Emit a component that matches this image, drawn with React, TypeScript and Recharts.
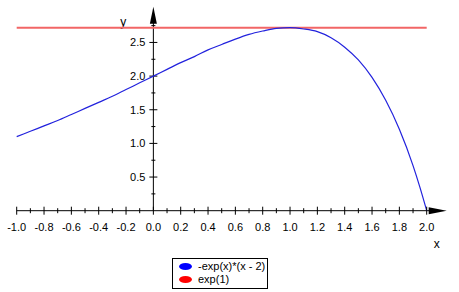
import { LineChart, Line, XAxis, YAxis, ReferenceLine } from 'recharts';

// curve values, x = -1 .. 2
const xValues = [-1, -0.9, -0.8, -0.7, -0.6, -0.5, -0.4, -0.3, -0.2, -0.1, 0, 0.1, 0.2, 0.3, 0.4, 0.5, 0.6, 0.7, 0.8, 0.9, 1, 1.1, 1.2, 1.3, 1.4, 1.5, 1.6, 1.7, 1.8, 1.9, 1.95, 2];
const curveValues = [1.10, 1.18, 1.26, 1.34, 1.43, 1.52, 1.61, 1.70, 1.80, 1.90, 2.0, 2.10, 2.20, 2.29, 2.39, 2.47, 2.55, 2.62, 2.67, 2.71, 2.72, 2.70, 2.66, 2.57, 2.43, 2.24, 1.98, 1.64, 1.21, 0.67, 0.35, 0];
const expOne = 2.718;

const xTicks = [-1, -0.9, -0.8, -0.7, -0.6, -0.5, -0.4, -0.3, -0.2, -0.1, 0, 0.1, 0.2, 0.3, 0.4, 0.5, 0.6, 0.7, 0.8, 0.9, 1, 1.1, 1.2, 1.3, 1.4, 1.5, 1.6, 1.7, 1.8, 1.9, 2];
const yTicks = [0.25, 0.5, 0.75, 1, 1.25, 1.5, 1.75, 2, 2.25, 2.5, 2.75];

const xDomain = [-1, 2];
const yDomain = [0, 3];

const data = xValues.map((x, i) => ({ x, y: curveValues[i] }));

const FONT = '"Liberation Sans", Arial, sans-serif';

const isMajor = (v: number, step: number) => Math.abs(Math.round(v / step) * step - v) < 1e-6;

const XTick = ({ x, y, payload }: any) => {
  const major = isMajor(payload.value, 0.2);
  const h = major ? 4 : 2.5;
  return (
    <g>
      <line x1={x} x2={x} y1={y - h} y2={y + h} stroke="#000" strokeWidth={1} />
      {major && (
        <text x={x} y={y + 20} textAnchor="middle" fontSize={11} fontFamily={FONT} fill="#000">
          {payload.value.toFixed(1)}
        </text>
      )}
    </g>
  );
};

// pixel x of the value 0 on a horizontal reference line
const zeroX = (p: any) => {
  const l = Math.min(p.x1, p.x2);
  const r = Math.max(p.x1, p.x2);
  return l + ((0 - xDomain[0]) / (xDomain[1] - xDomain[0])) * (r - l);
};

const YTickShape = (value: number) => (p: any) => {
  const x0 = zeroX(p);
  const major = isMajor(value, 0.5);
  const w = major ? 4 : 2;
  return (
    <g>
      <line x1={x0 - w} x2={x0 + w} y1={p.y1} y2={p.y1} stroke="#000" strokeWidth={1} />
      {major && (
        <text x={x0 - 8} y={p.y1 + 4} textAnchor="end" fontSize={11} fontFamily={FONT} fill="#000">
          {value.toFixed(1)}
        </text>
      )}
    </g>
  );
};

const YAxisShape = (p: any) => {
  const top = Math.min(p.y1, p.y2);
  const bottom = Math.max(p.y1, p.y2);
  const x = p.x1;
  return (
    <g>
      <line x1={x} x2={x} y1={top + 8} y2={bottom} stroke="#000" strokeWidth={1} />
      <polygon points={`${x},${top - 2} ${x - 3.5},${top + 15} ${x + 3.5},${top + 15}`} fill="#000" />
      <text x={x - 30} y={top + 17} textAnchor="middle" fontSize={12} fontFamily={FONT} fill="#000">y</text>
    </g>
  );
};

const XAxisShape = (p: any) => {
  const left = Math.min(p.x1, p.x2);
  const right = Math.max(p.x1, p.x2);
  const y = p.y1;
  return (
    <g>
      <line x1={left} x2={right + 8} y1={y} y2={y} stroke="#000" strokeWidth={1} />
      <polygon points={`${right + 20},${y} ${right + 2},${y - 3.5} ${right + 2},${y + 3.5}`} fill="#000" />
      <text x={right + 10} y={y + 37} textAnchor="middle" fontSize={12} fontFamily={FONT} fill="#000">x</text>
    </g>
  );
};

const legendItems = [
  { label: '-exp(x)*(x - 2)', color: '#0000ff' },
  { label: 'exp(1)', color: '#ff0000' },
];

export default function App() {
  return (
    <div style={{ position: 'absolute', left: 0, top: 0, width: 459, height: 292, background: '#fff' }}>
      <LineChart
        width={459}
        height={292}
        data={data}
        margin={{ top: 8.8, right: 32.3, bottom: 51.3, left: 16.7 }}
      >
        <XAxis
          dataKey="x"
          type="number"
          domain={xDomain}
          ticks={xTicks}
          interval={0}
          height={30}
          axisLine={false}
          tickLine={false}
          tickSize={0}
          tickMargin={0}
          tick={<XTick />}
        />
        <YAxis type="number" domain={yDomain} hide />
        <ReferenceLine y={0} shape={XAxisShape} ifOverflow="visible" />
        <ReferenceLine x={0} shape={YAxisShape} ifOverflow="visible" />
        {yTicks.map((v) => (
          <ReferenceLine key={v} y={v} shape={YTickShape(v)} />
        ))}
        <ReferenceLine y={expOne} stroke="#f26666" strokeWidth={2} />
        <Line
          type="monotone"
          dataKey="y"
          stroke="#2222dd"
          strokeWidth={1.2}
          dot={false}
          isAnimationActive={false}
        />
      </LineChart>
      <div
        style={{
          position: 'absolute',
          left: 172,
          top: 258,
          width: 94,
          height: 27,
          border: '1px solid #000',
          fontFamily: FONT,
          fontSize: 11,
          lineHeight: '13px',
          padding: '1px 0',
        }}
      >
        {legendItems.map((item) => (
          <div key={item.label} style={{ display: 'flex', alignItems: 'center', height: 13 }}>
            <span
              style={{
                display: 'inline-block',
                width: 13,
                height: 7,
                borderRadius: '50%',
                background: item.color,
                marginLeft: 6,
                marginRight: 6,
              }}
            />
            <span>{item.label}</span>
          </div>
        ))}
      </div>
    </div>
  );
}
